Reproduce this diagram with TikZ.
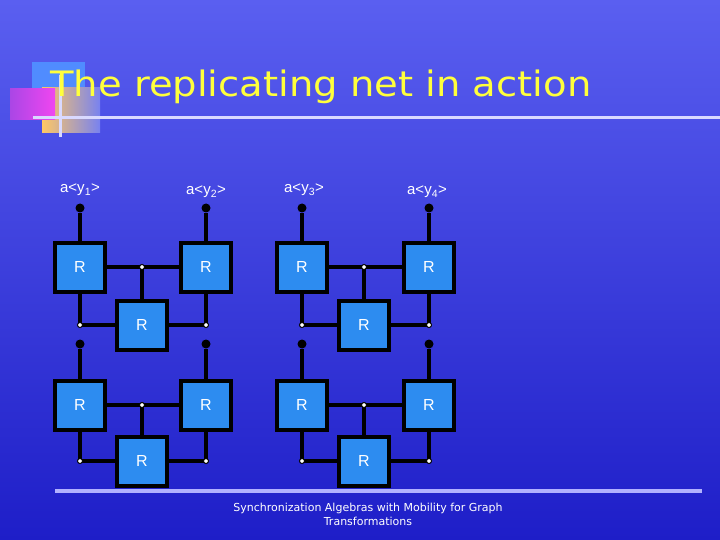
\documentclass[tikz,border=0pt]{standalone}
\usepackage{fontspec}
\setmainfont{DejaVu Sans}
\newfontfamily\arialf{Liberation Sans}
\begin{document}
\begin{tikzpicture}[x=1pt,y=-1pt,
  rbox/.style={draw=black,line width=4pt,fill=rfill,minimum width=50pt,minimum height=49pt,inner sep=0pt,text=white,font=\arialf\fontsize{16}{16}\selectfont},
  bdot/.style={circle,fill=black,inner sep=0pt,minimum size=9pt},
  wdot/.style={circle,fill=white,draw=black,line width=1pt,inner sep=0pt,minimum size=5pt},
  wire/.style={line width=3.5pt},
  lbl/.style={text=white,font=\arialf\fontsize{15}{15}\selectfont}]
\definecolor{rfill}{RGB}{45,140,240}
\definecolor{bgtop}{RGB}{90,95,240}
\definecolor{bgbot}{RGB}{30,30,200}
\useasboundingbox (0,0) rectangle (720,540);
\shade[top color=bgtop,bottom color=bgbot] (0,0) rectangle (720,540);
% logo
\fill[color={rgb,255:red,80;green,140;blue,255}] (32,62) rectangle (85,112);
\shade[left color={rgb,255:red,255;green,200;blue,100},right color={rgb,255:red,120;green,130;blue,240}] (42,88) rectangle (100,133);
\shade[left color={rgb,255:red,170;green,70;blue,230},right color={rgb,255:red,240;green,70;blue,240}] (10,89) rectangle (55,120);
\fill[white!85!blue] (33,116) rectangle (720,119);
\fill[white!85!blue] (59,75) rectangle (62,137);
\node[anchor=west,text={rgb,255:red,255;green,255;blue,60},inner sep=0pt,xscale=1.1,font=\fontsize{35}{35}\selectfont] (title) at (50,87) {The replicating net in action};
% bottom line
\fill[white!70!blue] (55,489) rectangle (702,493);
\node[lbl,font=\fontsize{11}{14}\selectfont,align=center] (foot) at (368,514) {Synchronization Algebras with Mobility for Graph\\Transformations};
% labels
\node[lbl] (l1) at (80,190) {a<y\textsubscript{1}>};
\node[lbl] (l2) at (206,192) {a<y\textsubscript{2}>};
\node[lbl] (l3) at (304,190) {a<y\textsubscript{3}>};
\node[lbl] (l4) at (427,192) {a<y\textsubscript{4}>};
\foreach \u/\xa/\xb/\xm in {a/80/206/142,b/302/429/364}{
 \foreach \r/\yt/\ym/\yd in {1/267/325/208,2/405/461/344}{
  \node[rbox] (L\u\r) at (\xa,\yt) {R};
  \node[rbox] (Rr\u\r) at (\xb,\yt) {R};
  \node[rbox] (M\u\r) at (\xm,\ym) {R};
  \node[bdot] (dl\u\r) at (\xa,\yd) {};
  \node[bdot] (dr\u\r) at (\xb,\yd) {};
  \coordinate (c\u\r) at (\xm,\yt);
  \coordinate (pl\u\r) at (\xa,\ym);
  \coordinate (pr\u\r) at (\xb,\ym);
  \draw[wire] (dl\u\r) -- (L\u\r);
  \draw[wire] (dr\u\r) -- (Rr\u\r);
  \draw[wire] (L\u\r) -- (Rr\u\r);
  \draw[wire] (c\u\r) -- (M\u\r);
  \draw[wire] (L\u\r) -- (pl\u\r) -- (M\u\r);
  \draw[wire] (Rr\u\r) -- (pr\u\r) -- (M\u\r);
  \node[rbox] at (L\u\r) {R};
  \node[rbox] at (Rr\u\r) {R};
  \node[rbox] at (M\u\r) {R};
  \node[wdot] (wc\u\r) at (c\u\r) {};
  \node[wdot] (wl\u\r) at (pl\u\r) {};
  \node[wdot] (wr\u\r) at (pr\u\r) {};
 }}
\end{tikzpicture}
\end{document}
